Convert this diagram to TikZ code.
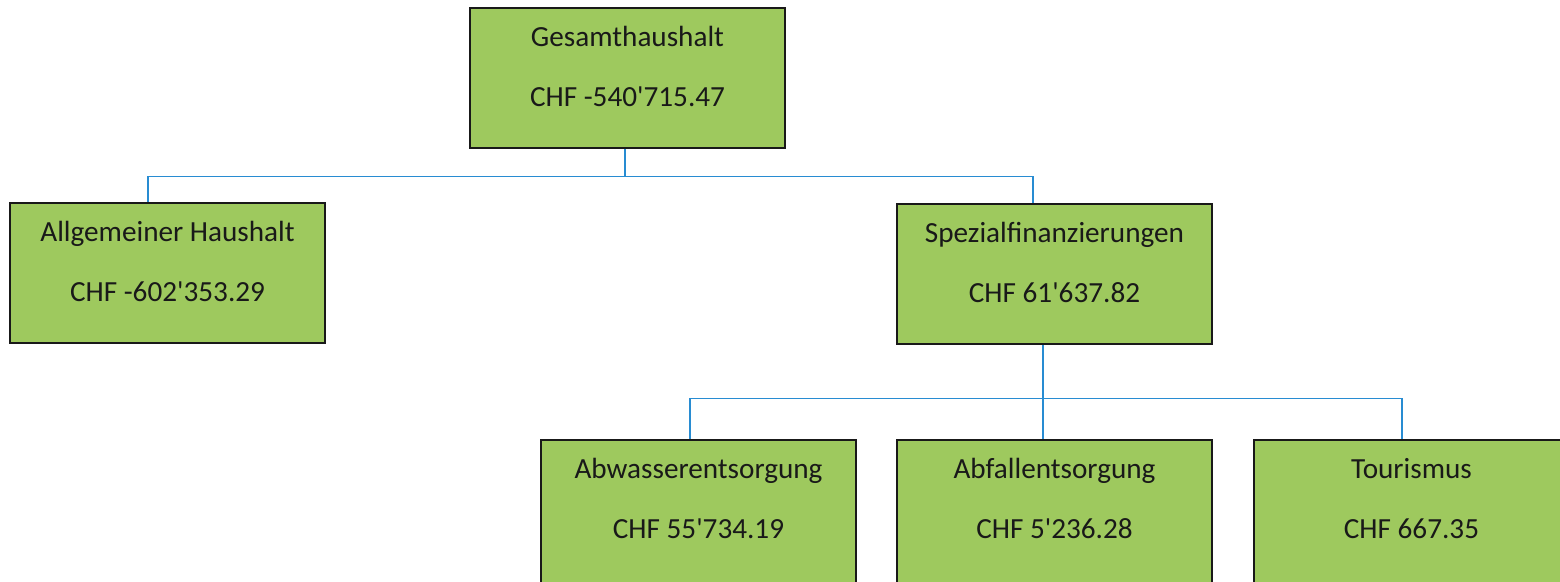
\documentclass[tikz,border=0pt]{standalone}
\usepackage{fontspec}
\setmainfont{Carlito}
\usepackage{tikz}
\usetikzlibrary{calc}

\definecolor{boxgreen}{RGB}{158,201,94}
\definecolor{linkblue}{RGB}{40,140,210}
\definecolor{boxedge}{RGB}{25,25,25}

\newcommand{\ap}{\textquotesingle}

\tikzset{
  unitbox/.style={draw=boxedge,line width=1.4pt,fill=boxgreen,
    minimum width=157.5pt,minimum height=70pt,inner sep=0pt},
  cutbox/.style={unitbox,minimum height=80pt},
  title/.style={anchor=base,font=\fontsize{14.6}{16}\selectfont,text=boxedge},
  link/.style={draw=linkblue,line width=0.7pt}
}

\begin{document}
\begin{tikzpicture}[x=0.5pt,y=-0.5pt]
\useasboundingbox (0,0) rectangle (1560,582);

    % boxes
    \node[unitbox] (ges)  at (627.5,78)  {};
    \node[unitbox] (allg) at (167.5,273) {};
    \node[unitbox] (spez) at (1054.5,274) {};
    \node[cutbox]  (abw)  at (698.5,520) {};
    \node[cutbox]  (abf)  at (1054.5,520) {};
    \node[cutbox]  (tour) at (1411.5,520) {};

    % texts
    \node[title] (gesA)  at ([yshift=-20pt]ges.north)  {Gesamthaushalt};
    \node[title] (gesB)  at ([yshift=-50pt]ges.north)  {CHF -540\ap715.47};
    \node[title] (allgA) at ([yshift=-20pt]allg.north) {Allgemeiner Haushalt};
    \node[title] (allgB) at ([yshift=-50pt]allg.north) {CHF -602\ap353.29};
    \node[title] (spezA) at ([yshift=-20pt]spez.north) {Spezialfinanzierungen};
    \node[title] (spezB) at ([yshift=-50pt]spez.north) {CHF 61\ap637.82};
    \node[title] (abwA)  at ([yshift=-20pt]abw.north)  {Abwasserentsorgung};
    \node[title] (abwB)  at ([yshift=-50pt]abw.north)  {CHF 55\ap734.19};
    \node[title] (abfA)  at ([yshift=-20pt]abf.north)  {Abfallentsorgung};
    \node[title] (abfB)  at ([yshift=-50pt]abf.north)  {CHF 5\ap236.28};
    \node[title] (tourA) at ([yshift=-20pt]tour.north) {Tourismus};
    \node[title] (tourB) at ([yshift=-50pt]tour.north) {CHF 667.35};

    % connectors
    \coordinate (gesOut)  at ([xshift=-1.25pt]ges.south);
    \coordinate (bus1)    at ([yshift=-13.5pt]gesOut);
    \coordinate (allgIn)  at ([xshift=-9.75pt]allg.north);
    \coordinate (spezIn)  at ([xshift=-10.75pt]spez.north);
    \draw[link] (gesOut) -- (bus1);
    \draw[link] (allgIn) |- (bus1) -| (spezIn);

    \coordinate (spezOut) at ([xshift=-5.75pt]spez.south);
    \coordinate (bus2)    at ([yshift=-26.5pt]spezOut);
    \coordinate (abwIn)   at ([xshift=-4.25pt]abw.north);
    \coordinate (abfIn)   at ([xshift=-5.75pt]abf.north);
    \coordinate (tourIn)  at ([xshift=-4.75pt]tour.north);
    \draw[link] (spezOut) -- (abfIn);
    \draw[link] (abwIn) |- (bus2) -| (tourIn);
\end{tikzpicture}
\end{document}
